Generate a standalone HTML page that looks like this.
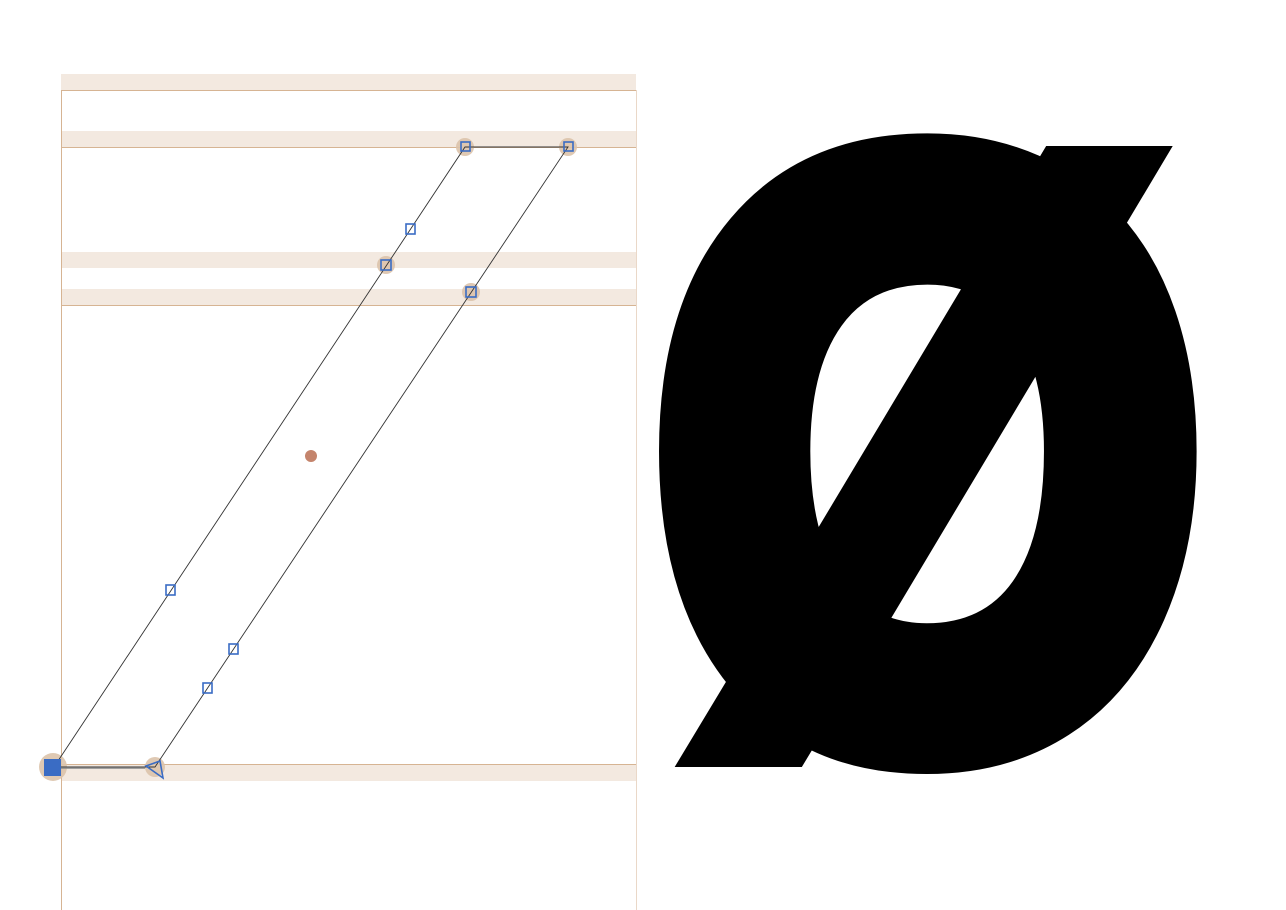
<!DOCTYPE html>
<html><head><meta charset="utf-8"><style>
html,body{margin:0;padding:0;background:#fff;}
svg{display:block;}
</style></head><body>
<svg width="1286" height="910" viewBox="0 0 1286 910">
<defs>
<clipPath id="gclip"><path d="M640 0 L1040 0 L1040 146 L1286 146 L1286 910 L815 910 L815 767 L640 767 Z"/></clipPath>
</defs>
<g fill="#f3e9e0">
<rect x="61" y="74" width="575" height="16"/>
<rect x="61" y="131" width="575" height="16"/>
<rect x="61" y="252" width="575" height="16"/>
<rect x="61" y="289" width="575" height="16"/>
<rect x="61" y="764" width="575" height="17"/>
</g>
<g stroke="#d6b493" stroke-width="1">
<line x1="61" y1="90.5" x2="636" y2="90.5"/>
<line x1="61" y1="147.5" x2="636" y2="147.5"/>
<line x1="61" y1="305.5" x2="636" y2="305.5"/>
<line x1="61" y1="764.5" x2="636" y2="764.5"/>
<line x1="61.5" y1="90" x2="61.5" y2="910"/>
<line x1="636.5" y1="90" x2="636.5" y2="910" stroke="#ead8c8"/>
</g>
<g fill="#dcc3ab" opacity="0.9">
<circle cx="53" cy="767" r="14"/>
<circle cx="155" cy="767" r="10"/>
<circle cx="465" cy="147" r="9"/>
<circle cx="568" cy="147" r="9"/>
<circle cx="386" cy="265" r="9"/>
<circle cx="471" cy="292" r="9"/>
</g>
<path d="M54 767 L465 147 L568 147 L155 767 Z" fill="none" stroke="#333" stroke-width="0.9"/>
<line x1="61" y1="768" x2="145" y2="768" stroke="#888" stroke-width="1.5"/>
<g fill="none" stroke="#3a6cc4" stroke-width="1.6">
<rect x="461" y="142" width="9" height="9"/>
<rect x="564" y="142" width="9" height="9"/>
<rect x="406" y="224" width="9" height="10"/>
<rect x="381" y="260" width="10" height="10"/>
<rect x="466" y="287" width="10" height="10"/>
<rect x="166" y="585" width="9" height="10"/>
<rect x="229" y="644" width="9" height="10"/>
<rect x="203" y="683" width="9" height="10"/>
<path d="M146 766 L160 761 L163 778 Z"/>
</g>
<rect x="44" y="759" width="17" height="17" fill="#3a6cc4"/>
<circle cx="311" cy="456" r="6" fill="#c4846c"/>
<g clip-path="url(#gclip)">
<text x="928" y="737" text-anchor="middle" font-family="Liberation Sans, sans-serif" font-weight="bold" font-size="823" transform="translate(928 0) scale(0.853 1) translate(-928 0)" fill="#000" stroke="#000" stroke-width="58" stroke-linejoin="miter">Ø</text>
</g>
</svg>
</body></html>
